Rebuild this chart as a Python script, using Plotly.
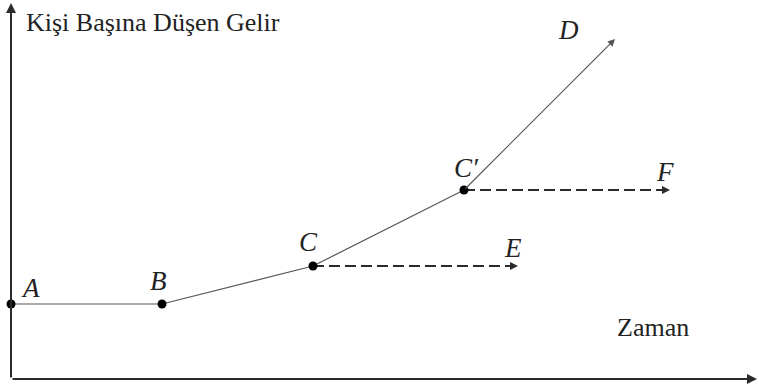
import plotly.graph_objects as go

# main path A -> B -> C -> C' -> D
labels = ["A", "B", "C", "C′", "D"]
zaman = [0, 151, 302, 453, 604]
gelir = [75, 75, 113, 189, 340]

# horizontal branches (dashed) from C and C'
branch_labels = ["E", "F"]
branch_start = [302, 453]
branch_end = [507, 659]
branch_level = [113, 189]

x_axis_end = 746
y_axis_end = 376

INK = "#2b2b2b"
SERIF = "Liberation Serif, Times New Roman, serif"
LETTER_FONT = dict(family=SERIF, size=27, color="#222")

fig = go.Figure()

# solid path up to C'
fig.add_trace(go.Scatter(
    x=zaman[:4], y=gelir[:4], mode="lines",
    line=dict(color="#555", width=1.2), hoverinfo="skip"))

# dashed branches
for x0, x1, yv in zip(branch_start, branch_end, branch_level):
    fig.add_trace(go.Scatter(
        x=[x0, x1 - 6], y=[yv, yv], mode="lines",
        line=dict(color=INK, width=1.8, dash="11px,5px"), hoverinfo="skip"))

# dots at A, B, C, C'
fig.add_trace(go.Scatter(
    x=zaman[:4], y=gelir[:4], mode="markers",
    marker=dict(color="black", size=9), hoverinfo="skip"))

anns = []
# axes
anns.append(dict(x=0, y=y_axis_end, ax=0, ay=0, xref="x", yref="y",
                 axref="x", ayref="y", text="", showarrow=True,
                 arrowhead=2, arrowsize=1, arrowwidth=2, arrowcolor=INK))
anns.append(dict(x=x_axis_end, y=0, ax=0, ay=0, xref="x", yref="y",
                 axref="x", ayref="y", text="", showarrow=True,
                 arrowhead=2, arrowsize=1, arrowwidth=2, arrowcolor=INK))
# C' -> D arrow
anns.append(dict(x=zaman[4], y=gelir[4], ax=zaman[3], ay=gelir[3],
                 xref="x", yref="y", axref="x", ayref="y", text="",
                 showarrow=True, arrowhead=2, arrowsize=1.2, arrowwidth=1.2,
                 arrowcolor="#555"))
# heads of dashed branches
for x1, yv in zip(branch_end, branch_level):
    anns.append(dict(x=x1, y=yv, ax=x1 - 14, ay=yv, xref="x", yref="y",
                     axref="x", ayref="y", text="", showarrow=True,
                     arrowhead=2, arrowsize=1, arrowwidth=1.6, arrowcolor=INK))

# point letters
shifts = [(19, 16), (-4, 23), (-5, 24), (2, 22), (-47, 9)]
for lab, xv, yv, (dx, dy) in zip(labels, zaman, gelir, shifts):
    anns.append(dict(x=xv, y=yv, text="<i>%s</i>" % lab, showarrow=False,
                     xshift=dx, yshift=dy, font=LETTER_FONT))
for lab, x1, yv in zip(branch_labels, branch_end, branch_level):
    anns.append(dict(x=x1, y=yv, text="<i>%s</i>" % lab, showarrow=False,
                     xshift=-5, yshift=18, font=LETTER_FONT))

# axis titles
anns.append(dict(x=13, y=357, text="Kişi Başına Düşen Gelir", showarrow=False,
                 xanchor="left", yanchor="middle",
                 font=dict(family=SERIF, size=26, color="#222")))
anns.append(dict(x=642, y=52, text="Zaman", showarrow=False,
                 xanchor="center", yanchor="middle",
                 font=dict(family=SERIF, size=26, color="#222")))

fig.update_layout(
    width=759, height=391,
    margin=dict(l=0, r=0, t=0, b=0),
    paper_bgcolor="white", plot_bgcolor="white",
    showlegend=False,
    annotations=anns,
    xaxis=dict(range=[-11, 748], visible=False, fixedrange=True),
    yaxis=dict(range=[-12, 379], visible=False, fixedrange=True),
)

fig.write_html("out.html", config={"displayModeBar": False},
               post_script="document.body.style.margin='0';")
